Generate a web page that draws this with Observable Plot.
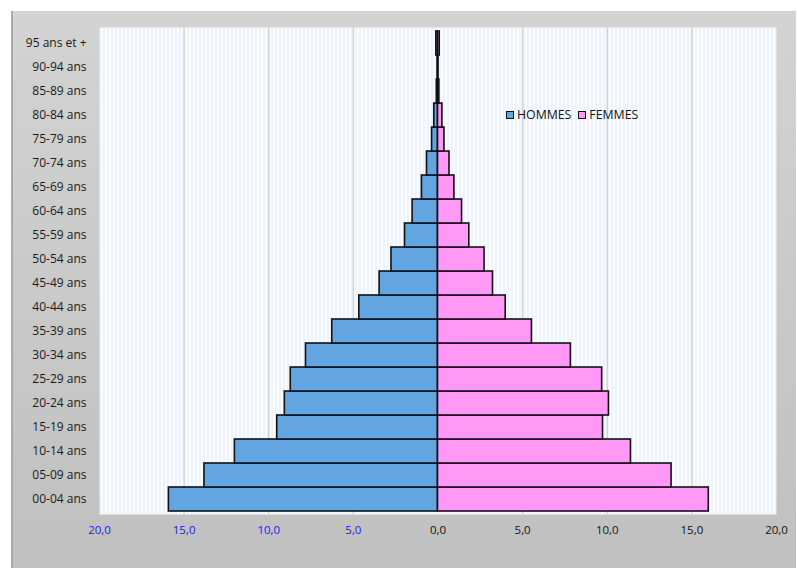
<!DOCTYPE html>
<html>
<head>
<meta charset="utf-8">
<script src="https://cdn.jsdelivr.net/npm/d3@7"></script>
<script src="https://cdn.jsdelivr.net/npm/@observablehq/plot@0.6"></script>
<style>
  html, body { margin: 0; padding: 0; background: #ffffff; }
  #wrap {
    position: absolute; left: 11px; top: 11px; width: 785px; height: 557px;
    background: linear-gradient(#d3d3d3, #c0c0c0);
    border-left: 2px solid #a9a9a9; box-sizing: border-box;
  }
  #chart { position: absolute; left: -2px; top: 0; width: 785px; height: 557px; }
  #chart svg { max-width: none !important; display: block; }
  #legend {
    position: absolute; left: 506px; top: 106px;
    font-family: "Open Sans", sans-serif; font-size: 12.3px; color: #111;
    display: flex; align-items: center; white-space: nowrap;
  }
  #legend .sw { display: inline-block; width: 6px; height: 6px; border: 1.5px solid #111; margin-right: 3px; }
  #legend .item { display: flex; align-items: center; margin-right: 7px; }
</style>
</head>
<body>
<div id="wrap"><div id="chart"></div></div>
<div id="legend"></div>
<script>
// Categories (bottom to top)
const ages = ["00-04 ans","05-09 ans","10-14 ans","15-19 ans","20-24 ans","25-29 ans","30-34 ans","35-39 ans","40-44 ans","45-49 ans","50-54 ans","55-59 ans","60-64 ans","65-69 ans","70-74 ans","75-79 ans","80-84 ans","85-89 ans","90-94 ans","95 ans et +"];
// Percent of population
const hommes = [15.9, 13.8, 12.0, 9.5, 9.05, 8.7, 7.8, 6.25, 4.65, 3.45, 2.75, 1.95, 1.5, 0.95, 0.65, 0.35, 0.22, 0.07, 0.02, 0.1];
const femmes = [16.0, 13.8, 11.4, 9.75, 10.1, 9.7, 7.85, 5.55, 4.0, 3.25, 2.75, 1.85, 1.42, 0.97, 0.68, 0.38, 0.26, 0.08, 0.03, 0.1];
const seriesNames = ["HOMMES", "FEMMES"];
const seriesColors = ["#63a5e0", "#ff99f5"];
const negTicks = [-20, -15, -10, -5];
const posTicks = [0, 5, 10, 15, 20];
const gridTicks = [-15, -10, -5, 5, 10, 15];

const rowsH = ages.map((a, i) => ({age: a, value: hommes[i]}));
const rowsF = ages.map((a, i) => ({age: a, value: femmes[i]}));
const fmt = d => Math.abs(d).toFixed(1).replace(".", ",");

const plot = Plot.plot({
  width: 785,
  height: 557,
  marginLeft: 88,
  marginTop: 16,
  marginRight: 20,
  marginBottom: 54,
  style: {background: "transparent", fontFamily: "Open Sans, sans-serif", fontSize: "11.5px", overflow: "visible", maxWidth: "none"},
  x: {domain: [-20, 20]},
  y: {domain: ages.slice().reverse(), padding: 0},
  marks: [
    Plot.frame({fill: "url(#dots)", stroke: "none"}),
    Plot.ruleX(gridTicks, {stroke: "#d4d4d4", strokeWidth: 1.5}),
    Plot.barX(rowsH, {y: "age", x1: 0, x2: d => -d.value, fill: seriesColors[0], stroke: "#111", strokeWidth: 1.6}),
    Plot.barX(rowsF, {y: "age", x1: 0, x2: "value", fill: seriesColors[1], stroke: "#111", strokeWidth: 1.6}),
    Plot.axisY({tickSize: 0, tickPadding: 13, label: null, color: "#1a1a1a", fontSize: 12}),
    Plot.axisX({ticks: negTicks, tickFormat: fmt, tickSize: 0, tickPadding: 11, label: null, color: "#1a1af0"}),
    Plot.axisX({ticks: posTicks, tickFormat: fmt, tickSize: 0, tickPadding: 11, label: null, color: "#111"})
  ]
});

// dotted background pattern
const svg = d3.select(plot);
const defs = svg.insert("defs", ":first-child");
const pat = defs.append("pattern").attr("id", "dots").attr("patternUnits", "userSpaceOnUse")
  .attr("width", 4).attr("height", 4);
pat.append("rect").attr("width", 4).attr("height", 4).attr("fill", "#ffffff");
pat.append("rect").attr("x", 0).attr("y", 0).attr("width", 1).attr("height", 1).attr("fill", "#a3c8ef");
pat.append("rect").attr("x", 2).attr("y", 2).attr("width", 1).attr("height", 1).attr("fill", "#d6e7f9");
pat.append("rect").attr("x", 0).attr("y", 2).attr("width", 1).attr("height", 1).attr("fill", "#c2dbf4");

document.getElementById("chart").appendChild(plot);

const legend = d3.select("#legend");
seriesNames.forEach((n, i) => {
  const it = legend.append("div").attr("class", "item");
  it.append("span").attr("class", "sw").style("background", seriesColors[i]);
  it.append("span").text(n);
});
</script>
</body>
</html>
